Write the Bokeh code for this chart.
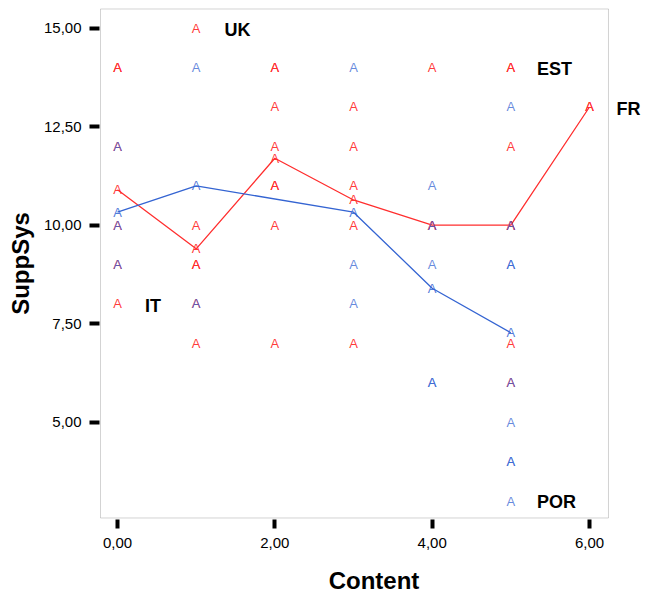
from bokeh.plotting import figure
from bokeh.models import ColumnDataSource, Label, FixedTicker, CustomJSTickFormatter, Range1d, BoxAnnotation
from bokeh.core.properties import value
from bokeh.embed import file_html
from bokeh.resources import INLINE

# ---- data ----
red_x = [0, 0, 0, 0, 0, 0,
         1, 1, 1, 1, 1, 1,
         2, 2, 2, 2, 2, 2, 2, 2,
         3, 3, 3, 3, 3,
         4, 4,
         5, 5, 5, 5, 5, 5,
         6]
red_y = [14, 14, 12, 10, 9, 8,
         15, 10, 9, 9, 8, 7,
         14, 14, 13, 12, 11, 11, 10, 7,
         13, 12, 11, 10, 7,
         14, 10,
         14, 14, 12, 10, 7, 6,
         13]

blue_x = [0, 0, 0,
          1, 1,
          3, 3, 3,
          4, 4, 4, 4, 4,
          5, 5, 5, 5, 5, 5, 5, 5, 5]
blue_y = [12, 10, 9,
          14, 8,
          14, 9, 8,
          11, 10, 9, 6, 6,
          13, 10, 9, 9, 6, 5, 4, 4, 3]

red_mean_x = [0, 1, 2, 3, 4, 5, 6]
red_mean_y = [10.9, 9.4, 11.7, 10.64, 10.0, 10.0, 13.0]
blue_mean_x = [0, 1, 3, 4, 5]
blue_mean_y = [10.33, 11.0, 10.33, 8.4, 7.27]

label_text = ["UK", "EST", "FR", "IT", "POR"]
label_x = [1.525, 5.555, 6.495, 0.451, 5.580]
label_y = [14.954, 13.952, 12.949, 7.937, 2.962]

x_ticks = [0, 2, 4, 6]
y_ticks = [5, 7.5, 10, 12.5, 15]

x_title = "Content"
y_title = "SuppSys"

# visible plot box (data units) and drawing area
box_left, box_right, box_bottom, box_top = -0.216, 6.2415, 2.569, 15.487
x_start, x_end = -0.2288, 6.75
y_start, y_end = 2.5305, 15.525

RED = "#ff2e2e"
BLUE = "#3464d2"
FONT = "Liberation Sans"

p = figure(width=648, height=597, output_backend="svg", toolbar_location=None,
           x_range=Range1d(x_start, x_end), y_range=Range1d(y_start, y_end),
           min_border_left=99, min_border_right=0, min_border_top=7, min_border_bottom=78)

p.background_fill_color = "white"
p.border_fill_color = "white"
p.outline_line_color = None
p.xgrid.visible = False
p.ygrid.visible = False

p.add_layout(BoxAnnotation(left=box_left, right=box_right, bottom=box_bottom, top=box_top,
                           fill_color=None, fill_alpha=0, line_color="#6e6e6e", line_width=1,
                           level="underlay"))

fmt = CustomJSTickFormatter(code="return tick.toFixed(2).replace('.', ',');")
for ax, ticks in ((p.xaxis, x_ticks), (p.yaxis, y_ticks)):
    ax.ticker = FixedTicker(ticks=ticks)
    ax.formatter = fmt
    ax.axis_line_color = None
    ax.major_tick_line_color = "black"
    ax.major_tick_line_width = 4
    ax.major_tick_in = 0
    ax.minor_tick_line_color = None
    ax.major_label_text_font = FONT
    ax.major_label_text_font_size = "15px"
    ax.major_label_text_color = "black"
    ax.axis_label_text_font = FONT
    ax.axis_label_text_font_style = "bold"
    ax.axis_label_text_font_size = "24px"
    ax.axis_label_text_color = "black"

p.xaxis.major_tick_out = 9
p.yaxis.major_tick_out = 10
p.xaxis.major_label_standoff = 9
p.yaxis.major_label_standoff = 8
p.xaxis.axis_label = x_title
p.yaxis.axis_label = y_title
p.xaxis.axis_label_standoff = 16
p.yaxis.axis_label_standoff = 7
p.xaxis.axis_label_text_line_height = 1.0
p.xaxis.major_label_text_line_height = 1.0

# mean lines
p.line(red_mean_x, red_mean_y, line_color=RED, line_width=1.3)
p.line(blue_mean_x, blue_mean_y, line_color=BLUE, line_width=1.3)

# markers "A"
def add_A(xs, ys, color, alpha):
    src = ColumnDataSource(dict(x=xs, y=ys, t=["A"] * len(xs)))
    p.text(x="x", y="y", text="t", source=src, text_color=color, text_alpha=alpha,
           text_font=value(FONT), text_font_size="13px",
           text_align="center", text_baseline="alphabetic")

add_A(red_x, red_y, RED, 0.95)
add_A(red_mean_x, red_mean_y, RED, 0.95)
add_A(blue_x, blue_y, BLUE, 0.75)
add_A(blue_mean_x, blue_mean_y, BLUE, 0.85)

for t, lx, ly in zip(label_text, label_x, label_y):
    p.add_layout(Label(x=lx, y=ly, text=t, text_font=FONT, text_font_style="bold",
                       text_font_size="18px", text_color="black",
                       text_align="center", text_baseline="middle"))

open("out.html", "w").write(file_html(p, INLINE))
